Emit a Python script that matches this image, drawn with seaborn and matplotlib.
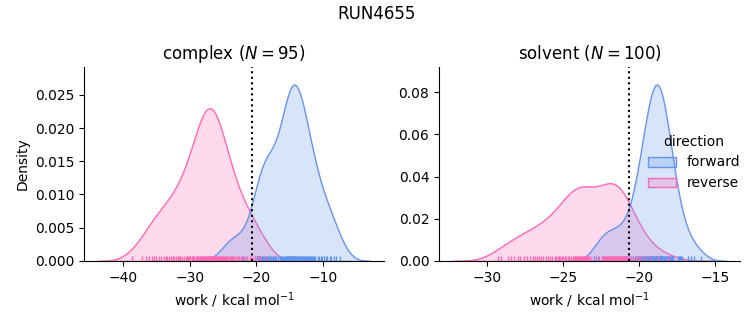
import matplotlib
matplotlib.use("Agg")
import matplotlib.pyplot as plt
import numpy as np
import pandas as pd
import seaborn as sns

phases = ["complex", "solvent"]
directions = ["forward", "reverse"]
palette = ["cornflowerblue", "hotpink"]
dg_values = [-20.7, -20.65]
suptitle = "RUN4655"
xlabel = "work / kcal mol$^{-1}$"

complex_forward = [
    -24.7, -24.0, -23.5, -23.0, -22.1, -21.8, -19.85,
    -19.65, -20.2, -19.95, -19.75, -19.55,
    -19.45, -19.3, -19.15, -19.0, -18.85, -18.7, -18.55,
    -18.45, -18.3, -18.15, -18.0, -17.85, -17.7, -17.55,
    -17.4, -17.2, -17.0, -16.8,
    -16.45, -16.3, -16.1, -15.95, -15.8, -15.65, -15.55,
    -15.47, -15.4, -15.32, -15.24, -15.2, -15.16, -15.08, -15.0, -14.92, -14.84, -14.76, -14.68, -14.6, -14.53,
    -14.47, -14.39, -14.35, -14.31, -14.23, -14.15, -14.07, -13.99, -13.91, -13.83, -13.74, -13.65, -13.55,
    -13.45, -13.32, -13.2, -13.08, -12.97, -12.85, -12.74, -12.62, -12.52,
    -12.43, -12.3, -12.16, -12.04, -11.91, -11.8, -11.66, -11.55,
    -11.4, -11.2, -10.8, -10.6,
    -10.35, -10.1, -9.85, -9.6,
    -9.35, -9.0, -8.8, -8.4, -8.0, -7.4,
]
complex_reverse = [
    -38.6, -37.2, -36.5, -36.1, -35.7, -35.4, -35.05, -34.6, -34.3, -33.9, -33.6,
    -33.4, -33.1, -32.8, -32.55, -32.35, -32.1, -31.8, -31.55,
    -31.4, -31.15, -30.85, -30.6,
    -30.45, -30.3, -30.1, -29.9, -29.7, -29.6, -29.55,
    -29.45, -29.3, -29.1, -28.9, -28.75, -28.55,
    -28.47, -28.38, -28.27, -28.16, -28.05, -27.94, -27.83, -27.73, -27.62, -27.52,
    -27.46, -27.38, -27.29, -27.21, -27.13, -27.04, -26.96, -26.87, -26.78, -26.70, -26.61, -26.53,
    -26.45, -26.35, -26.26, -26.16, -26.05, -25.94, -25.84, -25.73, -25.63, -25.54,
    -25.42, -25.27, -25.13, -24.98, -24.84, -24.69, -24.55,
    -24.4, -24.2, -24.0, -23.8, -23.65, -23.5,
    -23.3, -23.0, -22.8, -22.55, -22.3, -21.95, -21.6,
    -21.35, -20.9, -20.6, -20.2, -19.7, -19.4, -18.6,
]
solvent_forward = [
    -22.95, -22.7, -22.41, -22.25, -22.12, -21.95, -21.86, -21.58, -21.4, -21.33, -21.11, -20.95, -20.86,
    -20.69, -20.55, -20.41, -20.27,
    -20.23, -20.17, -20.12, -20.06, -19.98, -19.93, -19.87, -19.82, -19.76,
    -19.72, -19.69, -19.64, -19.61, -19.57, -19.53, -19.50, -19.45, -19.42, -19.37, -19.34, -19.30, -19.28, -19.26,
    -19.23, -19.21, -19.18, -19.15, -19.13, -19.10, -19.07, -19.04, -18.99, -18.95, -18.96, -18.93, -18.91, -18.88,
    -18.85, -18.82, -18.80, -18.77,
    -18.74, -18.72, -18.69, -18.68, -18.66, -18.63, -18.60, -18.58, -18.57, -18.54, -18.51, -18.48, -18.45, -18.42,
    -18.38, -18.35, -18.32, -18.26,
    -18.23, -18.2, -18.18, -18.15, -18.10, -18.06, -18.02, -17.98, -17.94, -17.90, -17.86, -17.82, -17.79, -17.76,
    -17.47, -17.41, -17.36, -17.31, -17.26, -17.2,
    -16.79, -16.61, -16.38, -15.92,
]
solvent_reverse = [
    -29.3, -29.05, -28.6,
    -28.45, -28.2, -27.95, -27.8, -27.6,
    -27.4, -27.2, -27.0, -26.85, -26.7, -26.55,
    -26.45, -26.3, -26.15, -26.0, -25.85, -25.7, -25.55,
    -25.45, -25.36, -25.27, -25.18, -25.08, -24.99, -24.9, -24.8, -24.7, -24.6, -24.49, -24.38,
    -24.31, -24.26, -24.19, -24.15, -24.1, -24.04, -24.0, -23.94, -23.9, -23.86, -23.8, -23.76, -23.7, -23.64,
    -23.6, -23.56, -23.52, -23.5, -23.44, -23.4, -23.36, -23.3,
    -23.15, -22.82, -22.67, -22.42,
    -22.35, -22.3, -22.24, -22.19, -22.13, -22.08, -22.03, -22.0, -21.97, -21.92, -21.87, -21.82, -21.76, -21.71, -21.66,
    -21.61, -21.55, -21.5, -21.45, -21.4, -21.34, -21.29, -21.24, -21.18, -21.13, -21.08, -21.02, -20.97, -20.92,
    -20.87, -20.81,
    -20.7, -20.55, -20.4, -20.22, -20.05, -19.85, -19.6, -19.25, -18.75, -18.1,
]

series = {
    ("complex", "forward"): complex_forward,
    ("complex", "reverse"): complex_reverse,
    ("solvent", "forward"): solvent_forward,
    ("solvent", "reverse"): solvent_reverse,
}
frames = []
for (phase, direction), vals in series.items():
    frames.append(pd.DataFrame({"work": vals, "direction": direction, "phase": phase}))
df = pd.concat(frames, ignore_index=True)

g = sns.displot(
    data=df, x="work", hue="direction", col="phase", kind="kde",
    fill=True, rug=True, palette=palette, hue_order=directions, col_order=phases,
    facet_kws=dict(sharex=False, sharey=False), height=3, aspect=1,
)
fig = g.figure
fig.set_size_inches(7.53, 3.25)

positions = [[84 / 753, 0.197, 300 / 753, 0.597], [439 / 753, 0.197, 301 / 753, 0.597]]
for ax, phase, dg, pos in zip(g.axes.flat, phases, dg_values, positions):
    n = len(series[(phase, "forward")])
    ax.set_position(pos)
    ax.set_title(f"{phase} ($N = {n}$)", fontsize=12)
    ax.axvline(dg, color="black", ls=":", lw=1.5)
    ax.set_xlabel(xlabel)
g.axes.flat[0].set_ylabel("Density")
g.axes.flat[1].set_ylabel("")

sns.move_legend(g, "center right", bbox_to_anchor=(1.0, 0.5), frameon=False)
fig.suptitle(suptitle, fontsize=12, y=0.985)

fig.savefig("out.png", dpi=100)
